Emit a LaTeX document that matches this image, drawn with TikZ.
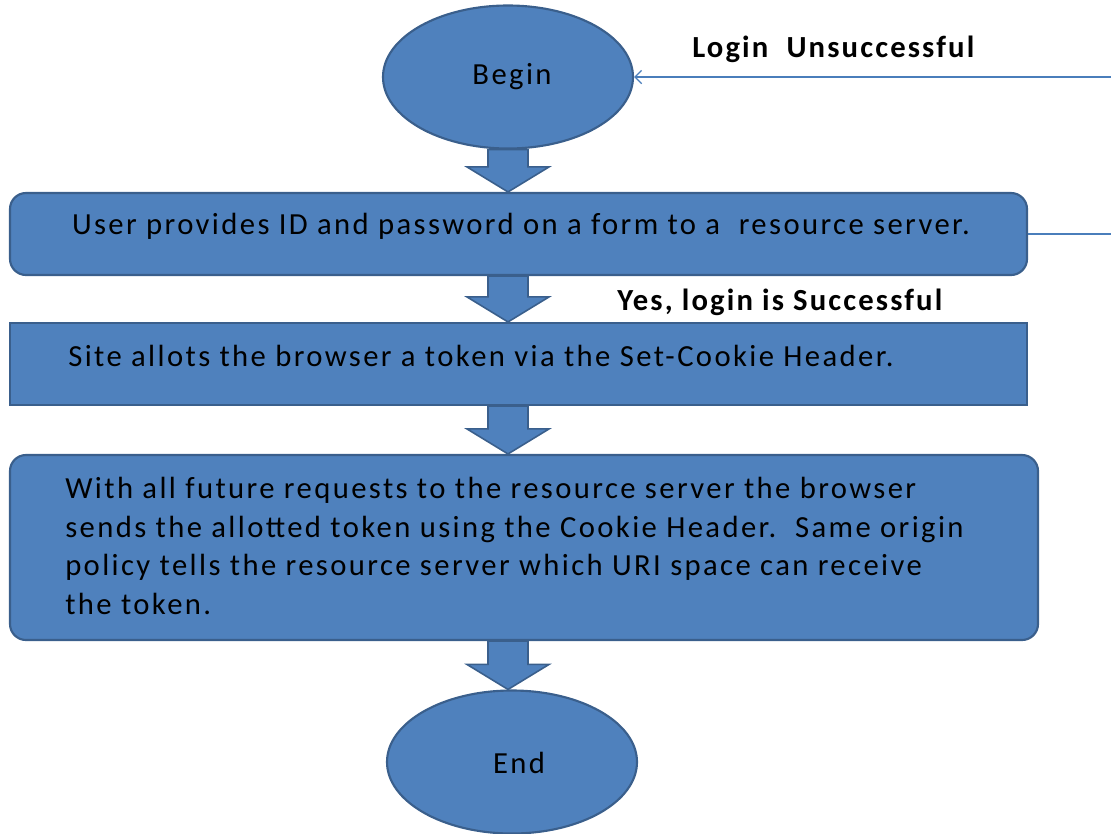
\documentclass[tikz,border=0pt]{standalone}
\usepackage{fontspec}
\setmainfont{Carlito}
\newfontfamily\stepfont[LetterSpace=7.8]{Carlito}
\newfontfamily\notefont[LetterSpace=7]{Carlito}
\usetikzlibrary{shapes.geometric,calc,arrows.meta}

\definecolor{boxfill}{HTML}{4F81BD}
\definecolor{boxedge}{HTML}{3A5F8C}
\definecolor{linkline}{HTML}{4A7EBB}

\tikzset{
  flowshape/.style={fill=boxfill, draw=boxedge, line width=1.6pt, inner sep=0pt},
  terminal/.style={flowshape, ellipse, minimum width=250*0.75pt, minimum height=143*0.75pt},
  roundbox/.style={flowshape, rounded corners=12pt},
  squarebox/.style={flowshape},
  boxtext/.style={font=\stepfont\fontsize{23}{29}\selectfont, inner sep=0pt, text=black},
  blockarr/.style={fill=boxfill, draw=boxedge, line width=1.2pt, line join=miter},
  linkarrow/.style={draw=linkline, line width=0.9pt},
  note/.style={font=\notefont\fontsize{23}{27}\selectfont\bfseries, inner sep=0pt, text=black}
}

% vertical block arrow from #1 down to #2
\newcommand\blockdown[2]{%
  \draw[blockarr] ($(#1)+(-20,0)$) -- ($(#2)+(-20,-25)$) -- ($(#2)+(-41,-25)$)
    -- (#2) -- ($(#2)+(41,-25)$) -- ($(#2)+(20,-25)$) -- ($(#1)+(20,0)$) -- cycle;}

\begin{document}
\begin{tikzpicture}[x=0.75pt, y=-0.75pt]
\useasboundingbox (0,0) rectangle (1111,833);

% terminals
\node[terminal] (begin) at (508,77) {};
\node[boxtext] (begintxt) at (512,77) {Begin};
\node[terminal] (end) at (512,762) {};
\node[boxtext] (endtxt) at (519,763) {End};

% process boxes
\node[roundbox, minimum width=1017*0.75pt, minimum height=82*0.75pt] (box1) at (518.5,234) {};
\node[boxtext] (box1txt) at (521,226) {User provides ID and password on a form to a\ \ resource server.};

\node[squarebox, minimum width=1017*0.75pt, minimum height=82*0.75pt] (box2) at (518.5,364) {};
\node[boxtext] (box2txt) at (481,356) {Site allots the browser a token via the Set-Cookie Header.};

\node[roundbox, minimum width=1028*0.75pt, minimum height=185*0.75pt] (box3) at (524,547.5) {};
\node[boxtext, anchor=north west, align=left] (box3txt) at (65,477)
  {With all future requests to the resource server the browser\\
   sends the allotted token using the Cookie Header.\ \ Same origin\\
   policy tells the resource server which URI space can receive\\
   the token.};

% block arrows between the steps
\blockdown{begin.south}{begin.south |- box1.north}
\blockdown{begin.south |- box1.south}{begin.south |- box2.north}
\blockdown{begin.south |- box2.south}{begin.south |- box3.north}
\blockdown{begin.south |- box3.south}{begin.south |- end.north}

% retry loop on the right
\coordinate (loopin) at (1111,77);
\coordinate (loopout) at (1111,234);
\draw[linkarrow, -{Straight Barb[length=5pt,width=10pt]}] (loopin) -- (begin.east);
\draw[linkarrow] (box1.east) -- (loopout);

% labels
\node[note, anchor=west] (fail) at (692,49) {Login\ \ Unsuccessful};
\node[note, anchor=west] (ok) at (617,302) {Yes, login is Successful};
\end{tikzpicture}
\end{document}
